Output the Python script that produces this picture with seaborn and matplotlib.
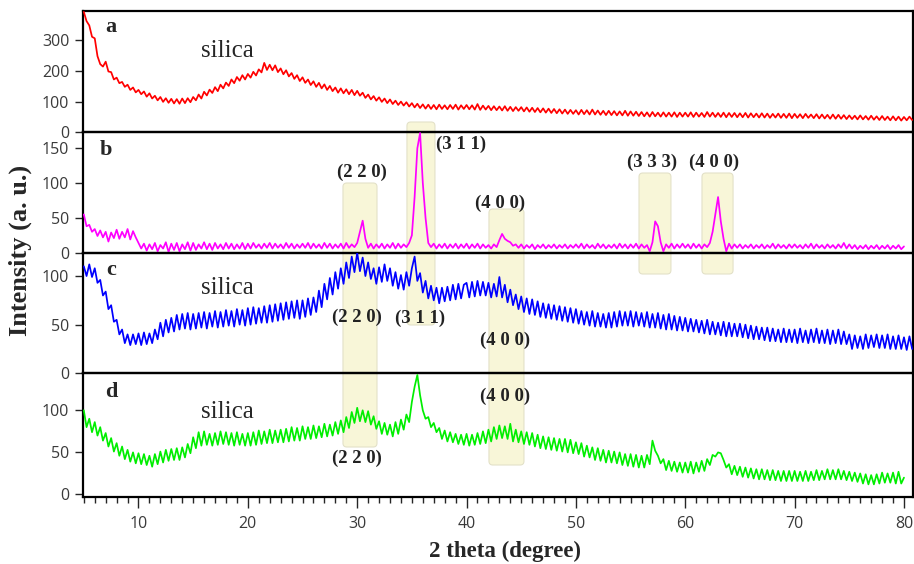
import numpy as np
import matplotlib
matplotlib.use('Agg')
import matplotlib.pyplot as plt
import matplotlib.transforms as mtransforms
from matplotlib.patches import FancyBboxPatch
from matplotlib.ticker import MultipleLocator
import seaborn as sns

sns.set_style('ticks')
plt.rcParams['font.family'] = ['Open Sans', 'DejaVu Sans']
SERIF = ['Liberation Serif', 'DejaVu Serif']

# 2 theta grid, 0.25 degree steps
two_theta = np.arange(5, 80.76, 0.25)

# panel a (red)
inten_a = [
    392, 362, 348, 311, 306, 248, 222, 214, 230, 198, 196, 172, 178, 160, 164, 148, 155, 138, 146, 130,
    138, 124, 133, 116, 127, 110, 119, 104, 115, 99, 111, 96, 109, 94, 108, 93, 110, 95, 111, 98,
    115, 104, 123, 110, 132, 120, 139, 128, 147, 134, 155, 143, 162, 151, 172, 160, 180, 168, 186, 172,
    190, 178, 197, 185, 205, 195, 226, 203, 220, 202, 218, 196, 208, 189, 202, 182, 193, 174, 186, 167,
    179, 161, 172, 154, 166, 148, 161, 143, 156, 138, 151, 134, 146, 129, 143, 127, 140, 124, 138, 121,
    135, 119, 129, 112, 123, 107, 118, 103, 114, 99, 110, 95, 107, 92, 103, 89, 100, 87, 98, 84,
    95, 81, 93, 79, 91, 77, 90, 76, 89, 75, 90, 76, 88, 75, 89, 76, 90, 74, 88, 76,
    89, 75, 88, 74, 92, 73, 87, 74, 86, 72, 85, 72, 84, 71, 85, 70, 83, 69, 82, 70,
    82, 68, 81, 67, 80, 66, 79, 65, 78, 64, 77, 63, 76, 62, 75, 61, 74, 60, 73, 60,
    72, 58, 73, 59, 72, 58, 74, 58, 71, 57, 70, 56, 70, 56, 69, 55, 68, 55, 70, 54,
    68, 54, 67, 53, 66, 52, 65, 51, 66, 52, 64, 51, 65, 51, 64, 51, 65, 50, 64, 51,
    64, 51, 65, 50, 64, 51, 63, 50, 66, 51, 64, 50, 63, 50, 64, 49, 63, 50, 63, 49,
    62, 49, 63, 48, 62, 49, 61, 48, 62, 48, 61, 47, 60, 48, 61, 47, 60, 47, 61, 46,
    60, 47, 59, 46, 60, 47, 58, 46, 59, 45, 58, 45, 57, 44, 58, 44, 57, 44, 56, 43,
    55, 43, 54, 42, 55, 42, 53, 41, 54, 41, 52, 40, 53, 40, 51, 39, 52, 39, 51, 38,
    50, 39, 51, 40,
]

# panel b (magenta)
inten_b = [
    55, 38, 40, 30, 34, 24, 32, 22, 30, 16, 29, 21, 33, 20, 30, 22, 34, 19, 31, 22,
    14, 6, 13, 3, 12, 5, 14, 2, 11, 6, 15, 1, 13, 4, 14, 2, 12, 5, 15, 3,
    14, 4, 12, 6, 15, 5, 13, 4, 14, 6, 12, 5, 14, 6, 13, 5, 12, 6, 14, 5,
    13, 6, 14, 7, 12, 6, 13, 7, 14, 6, 13, 7, 12, 6, 14, 7, 13, 6, 12, 7,
    13, 7, 14, 6, 13, 7, 12, 6, 14, 7, 13, 6, 12, 7, 13, 6, 14, 7, 12, 8,
    14, 30, 46, 20, 7, 13, 6, 12, 7, 13, 6, 12, 7, 14, 6, 13, 7, 12, 8, 14,
    25, 80, 150, 172, 100, 50, 14, 8, 13, 6, 12, 7, 13, 6, 12, 7, 13, 6, 12, 7,
    13, 6, 12, 7, 13, 6, 12, 7, 11, 6, 12, 8, 18, 27, 20, 17, 15, 10, 12, 7,
    12, 6, 11, 7, 12, 5, 11, 7, 12, 6, 11, 7, 12, 6, 11, 7, 12, 6, 11, 7,
    12, 7, 13, 6, 12, 7, 11, 6, 13, 7, 12, 6, 11, 7, 12, 6, 13, 7, 12, 6,
    12, 7, 13, 6, 12, 7, 11, 2, 15, 45, 38, 15, 2, 12, 7, 13, 6, 12, 7, 13,
    7, 12, 6, 13, 7, 12, 6, 12, 8, 14, 30, 55, 80, 45, 20, 2, 13, 6, 12, 7,
    12, 6, 11, 7, 12, 6, 11, 7, 12, 6, 11, 7, 13, 6, 12, 7, 11, 6, 12, 7,
    12, 7, 11, 6, 12, 7, 13, 6, 12, 7, 11, 6, 12, 7, 11, 6, 12, 7, 14, 6,
    12, 6, 11, 5, 10, 6, 11, 5, 10, 6, 11, 5, 10, 6, 11, 5, 10, 6, 11, 5,
    9,
]

# panel c (blue)
inten_c = [
    110, 100, 112, 99, 108, 93, 96, 80, 84, 66, 70, 53, 55, 40, 45, 31, 40, 29, 40, 30,
    41, 29, 42, 30, 41, 31, 45, 35, 52, 38, 55, 42, 57, 43, 60, 45, 61, 46, 62, 45,
    61, 46, 62, 47, 63, 46, 62, 48, 64, 47, 63, 48, 65, 49, 64, 48, 66, 50, 65, 49,
    67, 50, 68, 51, 67, 52, 69, 52, 70, 53, 71, 54, 72, 55, 73, 56, 74, 57, 75, 56,
    75, 58, 77, 60, 78, 63, 85, 68, 92, 76, 98, 81, 104, 87, 108, 92, 114, 98, 120, 104,
    124, 105, 119, 100, 114, 97, 108, 92, 109, 94, 112, 95, 108, 90, 104, 87, 101, 86, 104, 90,
    108, 120, 95, 103, 83, 95, 77, 90, 75, 88, 72, 88, 74, 89, 75, 91, 76, 92, 77, 91,
    93, 78, 94, 79, 95, 80, 94, 80, 93, 78, 92, 79, 99, 78, 91, 73, 86, 70, 81, 66,
    79, 63, 77, 61, 76, 60, 74, 58, 72, 57, 71, 56, 70, 55, 69, 54, 68, 53, 67, 52,
    66, 51, 64, 50, 63, 49, 64, 48, 62, 48, 61, 47, 62, 47, 63, 48, 64, 49, 63, 49,
    64, 48, 63, 49, 62, 48, 63, 47, 61, 47, 62, 46, 60, 45, 61, 45, 59, 44, 58, 44,
    57, 43, 56, 43, 55, 42, 54, 41, 55, 40, 53, 40, 52, 39, 53, 38, 52, 38, 51, 38,
    51, 37, 50, 36, 49, 35, 48, 35, 47, 34, 47, 33, 46, 33, 45, 32, 46, 32, 45, 32,
    45, 31, 46, 32, 44, 31, 45, 32, 46, 31, 44, 31, 45, 30, 44, 31, 45, 30, 43, 30,
    40, 25, 39, 26, 38, 25, 40, 26, 39, 27, 40, 26, 39, 26, 40, 25, 38, 25, 39, 25,
    37, 24, 38, 25,
]

# panel d (green)
inten_d = [
    100, 80, 90, 74, 86, 70, 80, 64, 73, 57, 67, 51, 61, 46, 57, 42, 53, 39, 50, 37,
    49, 36, 48, 35, 46, 33, 48, 36, 51, 38, 53, 40, 54, 41, 55, 41, 56, 44, 60, 49,
    68, 55, 74, 58, 75, 59, 72, 58, 73, 59, 75, 60, 74, 59, 73, 58, 74, 59, 72, 58,
    73, 58, 74, 59, 76, 60, 75, 61, 77, 61, 76, 62, 77, 62, 78, 63, 80, 64, 79, 64,
    81, 66, 80, 66, 82, 67, 81, 68, 84, 69, 83, 70, 86, 72, 88, 74, 92, 79, 98, 85,
    103, 87, 100, 86, 99, 83, 93, 78, 87, 72, 85, 71, 83, 69, 86, 72, 89, 77, 95, 86,
    110, 128, 142, 118, 100, 90, 92, 80, 85, 74, 79, 66, 76, 63, 74, 62, 72, 60, 71, 59,
    72, 58, 71, 59, 73, 60, 75, 61, 77, 63, 80, 66, 82, 67, 81, 66, 84, 63, 77, 62,
    75, 60, 74, 59, 73, 57, 71, 55, 69, 54, 68, 53, 67, 52, 66, 51, 66, 50, 65, 49,
    62, 48, 61, 45, 58, 44, 56, 41, 55, 40, 53, 38, 52, 38, 51, 37, 50, 35, 48, 34,
    48, 33, 47, 32, 46, 32, 47, 36, 64, 52, 46, 37, 42, 29, 40, 28, 39, 27, 38, 26,
    38, 26, 39, 25, 38, 27, 40, 28, 42, 35, 47, 45, 50, 49, 41, 32, 36, 24, 34, 23,
    33, 21, 32, 20, 31, 19, 30, 18, 30, 18, 29, 17, 29, 17, 28, 16, 28, 16, 28, 16,
    28, 16, 27, 16, 28, 16, 27, 17, 29, 17, 28, 18, 30, 18, 29, 18, 30, 18, 28, 17,
    27, 16, 26, 15, 25, 13, 24, 12, 23, 12, 24, 13, 26, 14, 25, 14, 26, 13, 27, 13,
    20,
]

panel_letters = ['a', 'b', 'c', 'd']
line_colors = ['#ff0000', '#ff00ff', '#0000ff', '#00ee00']
y_limits = [(0, 395), (0, 173), (0, 124), (-3, 144)]
y_ticks = [[0, 100, 200, 300], [0, 50, 100, 150], [0, 50, 100], [0, 50, 100]]

# highlighted reflections: (2theta from, 2theta to)
band_ranges = [(28.70, 31.81), (34.55, 37.11), (42.05, 45.25), (55.77, 58.69), (61.53, 64.37)]

fig = plt.figure(figsize=(9.14, 5.64), dpi=100)
gs = fig.add_gridspec(4, 1, left=0.0911, right=0.9986, top=0.9805, bottom=0.1188,
                      hspace=0, height_ratios=[121.3, 120.4, 120.6, 123.7])
axes = []
for i in range(4):
    ax = fig.add_subplot(gs[i], sharex=axes[0] if axes else None)
    axes.append(ax)

for i, (ax, vals) in enumerate(zip(axes, [inten_a, inten_b, inten_c, inten_d])):
    sns.lineplot(x=two_theta[:len(vals)], y=vals, ax=ax, color=line_colors[i],
                 linewidth=1.25, zorder=3)
    ax.set_xlim(4.95, 80.8)
    ax.set_ylim(*y_limits[i])
    ax.set_yticks(y_ticks[i])
    ax.set_facecolor('none')
    ax.set_xlabel('')
    ax.set_ylabel('')
    for sp in ax.spines.values():
        sp.set_visible(True)
        sp.set_color('black')
        sp.set_linewidth(1.6)
    ax.tick_params(axis='y', direction='out', length=6, width=1, labelsize=11.5,
                   labelcolor='#3a3a3a', pad=4)
    if i < 3:
        ax.tick_params(axis='x', which='both', bottom=False, labelbottom=False)

axd = axes[3]
axd.xaxis.set_major_locator(MultipleLocator(10))
axd.xaxis.set_minor_locator(MultipleLocator(1))
axd.tick_params(axis='x', which='major', direction='out', length=8, width=1,
                labelsize=11.5, labelcolor='#3a3a3a', pad=6)
axd.tick_params(axis='x', which='minor', direction='out', length=4.5, width=1)

# yellow highlight boxes spanning the panels (y in figure fraction)
band_y = [(183, 447), (122, 325), (209, 465), (173, 274), (173, 274)]
blend = mtransforms.blended_transform_factory(axd.transData, fig.transFigure)
for (x0, x1), (ytop, ybot) in zip(band_ranges, band_y):
    y0 = 1 - ybot / 564
    y1 = 1 - ytop / 564
    box = FancyBboxPatch((x0, y0), x1 - x0, y1 - y0,
                         boxstyle='round,pad=0,rounding_size=0.35',
                         mutation_aspect=0.0192, transform=blend,
                         facecolor='#f8f6d8', edgecolor='#e3e1c8', linewidth=0.8,
                         zorder=-1)
    fig.add_artist(box)

# panel letters and silica
letter_pos = [(7.5, 343), (7.0, 148), (7.5, 106), (7.5, 122)]
for ax, letter, (lx, ly) in zip(axes, panel_letters, letter_pos):
    ax.text(lx, ly, letter, family=SERIF, fontsize=16, fontweight='bold',
            ha='center', va='center', zorder=5)
for ax, sy in [(axes[0], 265), (axes[2], 88), (axes[3], 98)]:
    ax.text(18.1, sy, 'silica', family=SERIF, fontsize=18, ha='center', va='center', zorder=5)

# Miller indices
miller = [
    (1, 30.4, 115, '(2 2 0)'), (1, 39.5, 155, '(3 1 1)'), (1, 43.05, 71, '(4 0 0)'),
    (1, 57.0, 130, '(3 3 3)'), (1, 62.65, 130, '(4 0 0)'),
    (2, 30.0, 58, '(2 2 0)'), (2, 35.75, 57, '(3 1 1)'), (2, 43.5, 34, '(4 0 0)'),
    (3, 30.0, 43, '(2 2 0)'), (3, 43.5, 117, '(4 0 0)'),
]
for k, mx, my, lab in miller:
    axes[k].text(mx, my, lab, family=SERIF, fontsize=13.5, fontweight='bold',
                 color='#222222', ha='center', va='center', zorder=5)

fig.text(0.022, 1 - 250 / 564, 'Intensity (a. u.)', rotation=90, family=SERIF,
         fontsize=19, fontweight='bold', ha='center', va='center')
fig.text(505 / 914, 1 - 557 / 564, '2 theta (degree)', family=SERIF,
         fontsize=16.5, fontweight='bold', ha='center', va='baseline')

fig.savefig('out.png', dpi=100)
